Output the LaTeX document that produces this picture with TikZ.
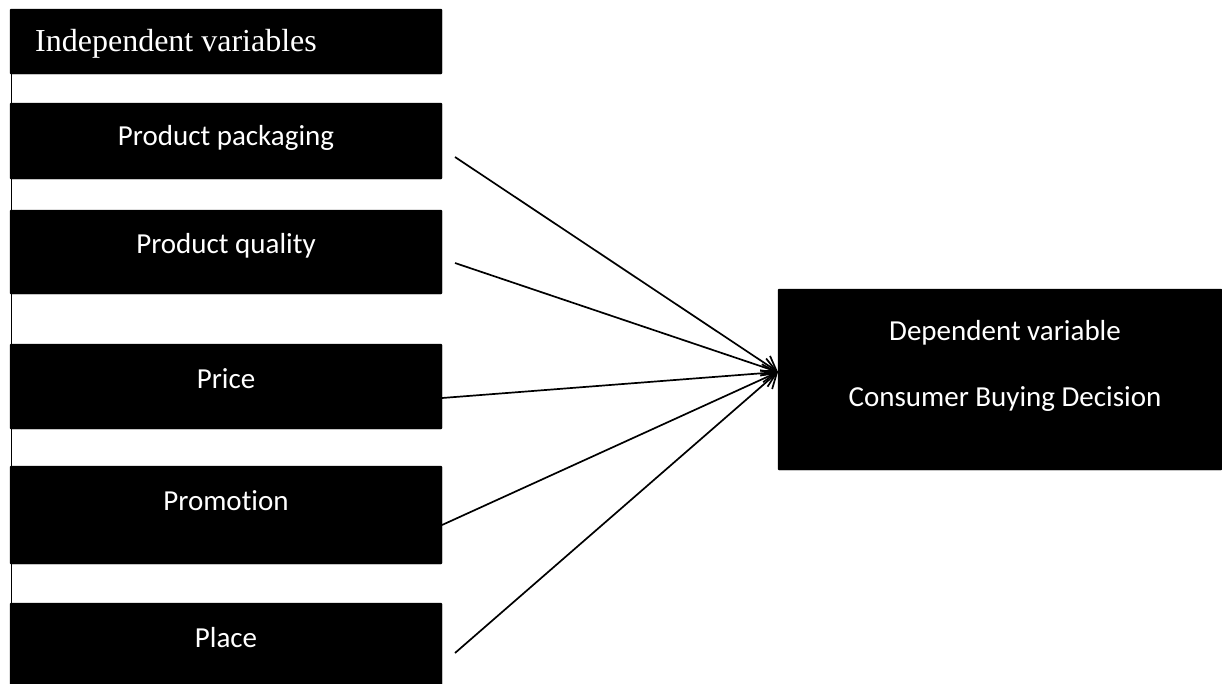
\documentclass[tikz,border=0pt]{standalone}
\usepackage{fontspec}
\setmainfont{Carlito}[Ligatures=NoCommon]
\newfontfamily\tnr{Liberation Serif}
\usetikzlibrary{arrows.meta}
\begin{document}
\begin{tikzpicture}[x=1pt,y=1pt,
  blk/.style={fill=black,draw=black,rounded corners=1pt,inner sep=0pt},
  wtxt/.style={text=white,font=\fontsize{29}{33}\selectfont,inner sep=0pt},
  conn/.style={line width=1.7pt,-{Straight Barb[length=14pt,width=18pt,line width=1.7pt]}}]
\useasboundingbox (0,0) rectangle (1222,-683);
% boxes
\node[blk,minimum width=432,minimum height=65] (iv) at (226,-41.5) {};
\node[blk,minimum width=432,minimum height=76] (pp) at (226,-141) {};
\node[blk,minimum width=432,minimum height=84] (pq) at (226,-252) {};
\node[blk,minimum width=432,minimum height=85] (pr) at (226,-386.5) {};
\node[blk,minimum width=432,minimum height=98] (pm) at (226,-515) {};
\node[blk,minimum width=432,minimum height=82] (pl) at (226,-644) {};
\node[blk,minimum width=444,minimum height=181] (dv) at (1000,-379.5) {};
% vertical line on left
\draw[line width=1pt] ([xshift=2pt]iv.south west) -- ([xshift=2pt]pl.north west);
% texts
\node[text=white,anchor=west,inner sep=0pt,font=\tnr\fontsize{32}{36}\selectfont] (tiv) at (35,-44) {Independent variables};
\node[wtxt] (tpp) at (226,-138) {Product packaging};
\node[wtxt] (tpq) at (226,-246) {Product quality};
\node[wtxt] (tpr) at (226,-379) {Price};
\node[wtxt] (tpm) at (226,-501) {Promotion};
\node[wtxt] (tpl) at (226,-638) {Place};
\node[wtxt] (td1) at (1005,-333) {Dependent variable};
\node[wtxt] (td2) at (1005,-399) {Consumer Buying Decision};
% connectors
\coordinate (tgt) at (778,-372);
\coordinate (s1) at (455,-157);
\coordinate (s2) at (455,-263);
\coordinate (s3) at (442,-398);
\coordinate (s4) at (442,-525);
\coordinate (s5) at (455,-653);
\draw[conn] (s1) -- (tgt);
\draw[conn] (s2) -- (tgt);
\draw[conn] (s3) -- (tgt);
\draw[conn] (s4) -- (tgt);
\draw[conn] (s5) -- (tgt);
\end{tikzpicture}
\end{document}
